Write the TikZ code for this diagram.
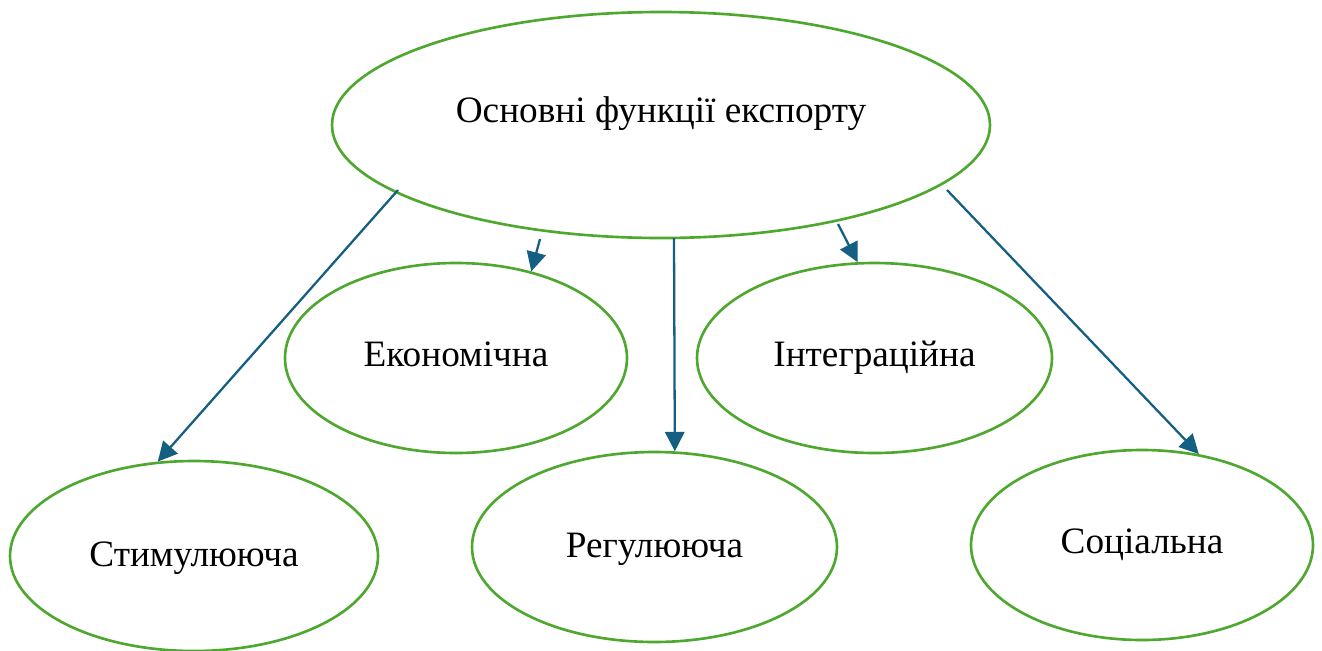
\documentclass[tikz,border=0pt]{standalone}
\usepackage{fontspec}
\setmainfont{Liberation Serif}
\usetikzlibrary{shapes.geometric,arrows.meta}
\definecolor{ringgreen}{HTML}{4EA72E}
\definecolor{linkblue}{HTML}{156082}
% text placed with its baseline a given distance above the oval's centre
\newcommand{\ovaltext}[2]{\smash{\raisebox{#1}{#2}}}
\tikzset{
  oval/.style n args={2}{ellipse, draw=ringgreen, line width=1.5pt, inner sep=0pt,
    minimum width=#1*0.02cm, minimum height=#2*0.02cm, font=\fontsize{21.2}{25}\selectfont},
  link/.style={draw=linkblue, line width=1.3pt, -{Triangle[length=11pt,width=11pt]}}
}
\begin{document}
\begin{tikzpicture}[x=0.02cm,y=-0.02cm]
\useasboundingbox (0,0) rectangle (1322,650);
\clip (0,0) rectangle (1322,650);
\node[oval={658}{226}] (top) at (661,125) {\ovaltext{1.7pt}{Основні функції експорту}};
\node[oval={342}{190}] (econ) at (456,358) {\ovaltext{-5.1pt}{Економічна}};
\node[oval={355}{190}] (integ) at (874.5,358) {\ovaltext{-5.1pt}{Інтеграційна}};
\node[oval={368}{190}] (stim) at (194,556) {\ovaltext{-5.7pt}{Стимулююча}};
\node[oval={365}{190}] (reg) at (654.5,547) {\ovaltext{-5.7pt}{Регулююча}};
\node[oval={342}{190}] (soc) at (1142,545) {\ovaltext{-5.1pt}{Соціальна}};
% attachment points on the lower rim of the main oval
\coordinate (s1) at (398,190);
\coordinate (s2) at (540,239);
\coordinate (s3) at (674,238);
\coordinate (s4) at (838,224);
\coordinate (s5) at (947,190);
\draw[link] (s1) -- (stim.111);
\draw[link] (s2) -- (econ.49.9);
\draw[link] (s3) -- (reg.78.6);
\draw[link] (s4) -- (integ.100.9);
\draw[link] (s5) -- (soc.58);
\end{tikzpicture}
\end{document}
